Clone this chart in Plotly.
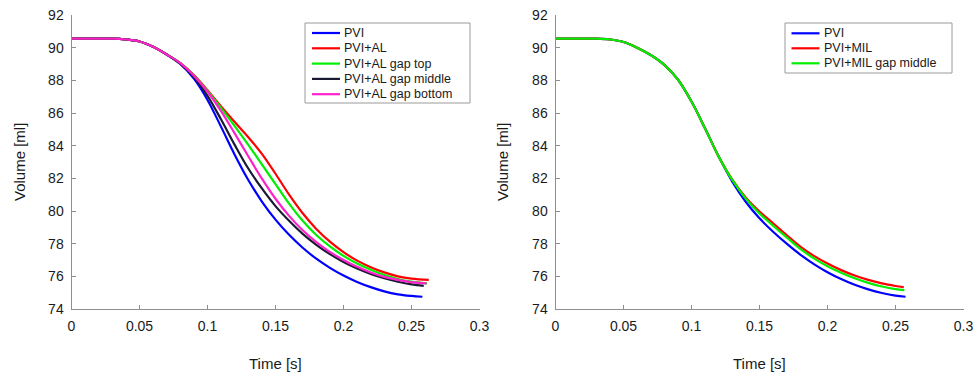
import plotly.graph_objects as go

W, H = 973, 375

# ---------------- data ----------------
t_grid = [0, 0.01, 0.02, 0.03, 0.04, 0.05, 0.06, 0.07, 0.08, 0.09, 0.10, 0.11, 0.12, 0.13,
          0.14, 0.15, 0.16, 0.17, 0.18, 0.19, 0.20, 0.21, 0.22, 0.23, 0.24, 0.25]

# Left panel
left_names = ["PVI", "PVI+AL", "PVI+AL gap top", "PVI+AL gap middle", "PVI+AL gap bottom"]
left_colors = ["#0000ff", "#ff0000", "#00ee00", "#1a1a35", "#ff22cc"]

left_pvi = [90.55, 90.55, 90.55, 90.55, 90.5, 90.38, 90.05, 89.58, 89.0, 88.1, 86.8, 85.15, 83.45,
            81.9, 80.58, 79.47, 78.54, 77.75, 77.08, 76.52, 76.05, 75.66, 75.34, 75.08, 74.9, 74.8]
left_al = [90.55, 90.55, 90.55, 90.55, 90.5, 90.38, 90.05, 89.58, 89.05, 88.32, 87.4, 86.4, 85.45,
           84.52, 83.5, 82.28, 81.0, 79.86, 78.9, 78.12, 77.48, 76.96, 76.56, 76.24, 76.0, 75.86]
left_gap_top = [90.55, 90.55, 90.55, 90.55, 90.5, 90.38, 90.05, 89.58, 89.05, 88.3, 87.35, 86.3, 85.2,
                84.05, 82.85, 81.65, 80.45, 79.4, 78.53, 77.83, 77.25, 76.78, 76.4, 76.08, 75.84, 75.68]
left_gap_middle = [90.55, 90.55, 90.55, 90.55, 90.5, 90.38, 90.05, 89.58, 89.02, 88.2, 87.05, 85.6, 84.05,
                   82.6, 81.38, 80.3, 79.4, 78.6, 77.93, 77.36, 76.88, 76.48, 76.15, 75.88, 75.67, 75.51]
left_gap_bottom = [90.55, 90.55, 90.55, 90.55, 90.5, 90.38, 90.05, 89.58, 89.05, 88.28, 87.3, 86.12, 84.75,
                   83.35, 81.98, 80.75, 79.7, 78.82, 78.1, 77.5, 77.0, 76.58, 76.24, 75.97, 75.78, 75.65]
left_end_t = [0.258, 0.2627, 0.2615, 0.259, 0.261]
left_end_v = [74.75, 75.78, 75.57, 75.42, 75.57]

# Right panel
right_names = ["PVI", "PVI+MIL", "PVI+MIL gap middle"]
right_colors = ["#0000ff", "#ff0000", "#00ee00"]

right_pvi = [90.55, 90.55, 90.55, 90.55, 90.5, 90.35, 90.0, 89.55, 88.95, 88.05, 86.7, 85.05, 83.33,
             81.8, 80.55, 79.55, 78.73, 78.0, 77.33, 76.75, 76.25, 75.83, 75.48, 75.2, 74.98, 74.82]
right_mil = [90.55, 90.55, 90.55, 90.55, 90.5, 90.35, 90.0, 89.55, 88.95, 88.05, 86.7, 85.05, 83.33,
             81.92, 80.82, 79.97, 79.25, 78.52, 77.82, 77.25, 76.78, 76.38, 76.05, 75.78, 75.57, 75.41]
right_mil_gap = [90.55, 90.55, 90.55, 90.55, 90.5, 90.35, 90.0, 89.55, 88.95, 88.05, 86.7, 85.05, 83.33,
                 81.9, 80.75, 79.85, 79.1, 78.38, 77.68, 77.1, 76.62, 76.22, 75.88, 75.6, 75.38, 75.22]
right_end_t = [0.2574, 0.2561, 0.2565]
right_end_v = [74.75, 75.33, 75.16]

x_ticks = [0, 0.05, 0.1, 0.15, 0.2, 0.25, 0.3]
y_ticks = [74, 76, 78, 80, 82, 84, 86, 88, 90, 92]

# ---------------- figure ----------------
FONT = "Liberation Sans, Arial, Helvetica, sans-serif"
AXC = "#8e8e8e"
TXT = "#1a1a1a"


def px_x(p):
    return p / W


def px_y(p):
    return (H - p) / H


fig = go.Figure()

left_series = [left_pvi, left_al, left_gap_top, left_gap_middle, left_gap_bottom]
for name, col, vals, te, ve in zip(left_names, left_colors, left_series, left_end_t, left_end_v):
    fig.add_trace(go.Scatter(x=t_grid + [te], y=vals + [ve], mode="lines", name=name,
                             line=dict(color=col, width=2.2, shape="spline", smoothing=1.0),
                             xaxis="x", yaxis="y", showlegend=False))

right_series = [right_pvi, right_mil, right_mil_gap]
for name, col, vals, te, ve in zip(right_names, right_colors, right_series, right_end_t, right_end_v):
    fig.add_trace(go.Scatter(x=t_grid + [te], y=vals + [ve], mode="lines", name=name,
                             line=dict(color=col, width=2.2, shape="spline", smoothing=1.0),
                             xaxis="x2", yaxis="y2", showlegend=False))

axis_common = dict(showline=True, linecolor=AXC, linewidth=1, ticks="inside", ticklen=4,
                   tickcolor=AXC, showgrid=False, zeroline=False, mirror=False, automargin=False,
                   ticklabeloverflow="allow",
                   tickfont=dict(family=FONT, size=14, color=TXT))

ydom = [px_y(309), px_y(15)]
fig.update_layout(
    width=W, height=H, autosize=False,
    margin=dict(l=0, r=0, t=0, b=0, pad=0),
    paper_bgcolor="white", plot_bgcolor="white",
    showlegend=False,
    xaxis=dict(domain=[px_x(71.5), px_x(479.5)], range=[0, 0.3], tickvals=x_ticks,
               anchor="y", ticklabelstandoff=4, **axis_common),
    yaxis=dict(domain=ydom, range=[74, 92], tickvals=y_ticks, anchor="x",
               ticklabelstandoff=4, **axis_common),
    xaxis2=dict(domain=[px_x(555.5), px_x(963.5)], range=[0, 0.3], tickvals=x_ticks,
                anchor="y2", ticklabelstandoff=4, **axis_common),
    yaxis2=dict(domain=ydom, range=[74, 92], tickvals=y_ticks, anchor="x2",
                ticklabelstandoff=4, **axis_common),
)

annotations = []
shapes = []

# axis titles
for cx in [(71.5 + 479.5) / 2, (555.5 + 963.5) / 2]:
    annotations.append(dict(text="Time [s]", x=px_x(cx), y=px_y(363), xref="paper", yref="paper",
                            showarrow=False, xanchor="center", yanchor="middle",
                            font=dict(family=FONT, size=15, color=TXT)))
for cx in [19, 502]:
    annotations.append(dict(text="Volume [ml]", x=px_x(cx), y=px_y(162), xref="paper", yref="paper",
                            showarrow=False, xanchor="center", yanchor="middle", textangle=-90,
                            font=dict(family=FONT, size=15, color=TXT)))


# legends (drawn by hand to match the compact row spacing)
def add_legend(box, names, colors, rows_y, line_x0, line_x1, text_x):
    x0, y0, x1, y1 = box
    shapes.append(dict(type="rect", xref="paper", yref="paper",
                       x0=px_x(x0), x1=px_x(x1), y0=px_y(y1), y1=px_y(y0),
                       line=dict(color="#9a9a9a", width=1), fillcolor="white", layer="above"))
    for nm, col, ry in zip(names, colors, rows_y):
        shapes.append(dict(type="line", xref="paper", yref="paper",
                           x0=px_x(line_x0), x1=px_x(line_x1), y0=px_y(ry), y1=px_y(ry),
                           line=dict(color=col, width=2.2), layer="above"))
        annotations.append(dict(text=nm, x=px_x(text_x), y=px_y(ry), xref="paper", yref="paper",
                                showarrow=False, xanchor="left", yanchor="middle",
                                font=dict(family=FONT, size=12.5, color=TXT)))


add_legend((305, 23, 470, 103), left_names, left_colors, [33, 48.3, 63.6, 78.9, 94.2], 312, 340, 342)
add_legend((785, 23, 952, 73), right_names, right_colors, [33.3, 48.3, 63.3], 791.5, 819.5, 821.5)

fig.update_layout(annotations=annotations, shapes=shapes)

fig.write_html("out.html")
